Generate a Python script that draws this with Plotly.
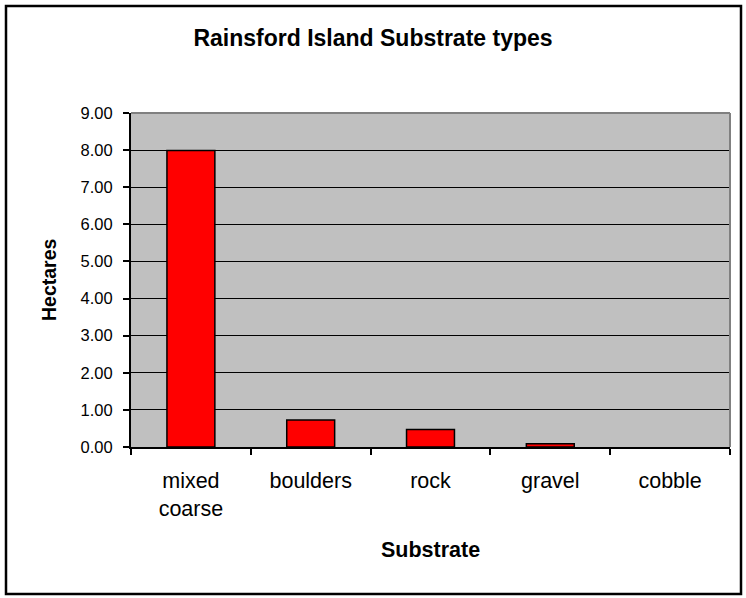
import plotly.graph_objects as go

categories = ["mixed<br>coarse", "boulders", "rock", "gravel", "cobble"]
hectares = [7.99, 0.73, 0.47, 0.09, 0.0]
y_ticks = [0, 1, 2, 3, 4, 5, 6, 7, 8, 9]

W, H = 746, 598
L, R, T, B = 131, 730, 113, 447
pw, ph = R - L, B - T

def px(x):
    return (x - L) / pw

def py(y):
    return (B - y) / ph

FONT = "Liberation Sans, Arial, sans-serif"

fig = go.Figure(go.Bar(
    x=categories, y=hectares,
    marker=dict(color="#FF0000",
                line=dict(color="#000000", width=[1.5 if v > 0 else 0 for v in hectares])),
))

fig.update_layout(
    width=W, height=H,
    margin=dict(l=L, r=W - R, t=T, b=H - B, pad=0),
    paper_bgcolor="white", plot_bgcolor="#C0C0C0",
    bargap=0.6, showlegend=False,
    font=dict(family=FONT, color="black"),
    title=dict(text="<b>Rainsford Island Substrate types</b>", x=0.5, xanchor="center",
               xref="container", y=1 - 38 / H, yanchor="middle", yref="container",
               font=dict(size=23, family=FONT, color="black")),
    xaxis=dict(showline=True, linecolor="black", linewidth=2, ticks="outside",
               tickson="boundaries", ticklen=6, tickwidth=1.5, tickcolor="black",
               tickfont=dict(size=21.5), ticklabelstandoff=13, showgrid=False),
    yaxis=dict(range=[0, 9], tickvals=y_ticks, tickformat=".2f", showline=True,
               linecolor="black", linewidth=2, ticks="outside", ticklen=6, tickwidth=1.5,
               tickcolor="black", tickfont=dict(size=16.5), ticklabelstandoff=7,
               showgrid=True, gridcolor="black", gridwidth=1, zeroline=False),
    shapes=[
        dict(type="line", xref="paper", yref="paper", x0=0, x1=1, y0=1, y1=1,
             line=dict(color="#808080", width=2)),
        dict(type="line", xref="paper", yref="paper", x0=1, x1=1, y0=0, y1=1,
             line=dict(color="#808080", width=2)),
        dict(type="rect", xref="paper", yref="paper", x0=px(6), x1=px(741),
             y0=py(594), y1=py(6), line=dict(color="black", width=2.5),
             fillcolor="rgba(0,0,0,0)"),
    ],
    annotations=[
        dict(text="<b>Substrate</b>", xref="paper", yref="paper", x=0.5, y=0,
             yshift=-(550 - B), xanchor="center", yanchor="middle", showarrow=False,
             font=dict(size=21.5, family=FONT, color="black")),
        dict(text="<b>Hectares</b>", xref="paper", yref="paper", x=0, y=0.5,
             xshift=-(L - 49), xanchor="center", yanchor="middle", textangle=-90,
             showarrow=False, font=dict(size=19.5, family=FONT, color="black")),
    ],
)

fig.write_html("out.html", config={"displayModeBar": False},
               post_script="document.body.style.margin='0';")
